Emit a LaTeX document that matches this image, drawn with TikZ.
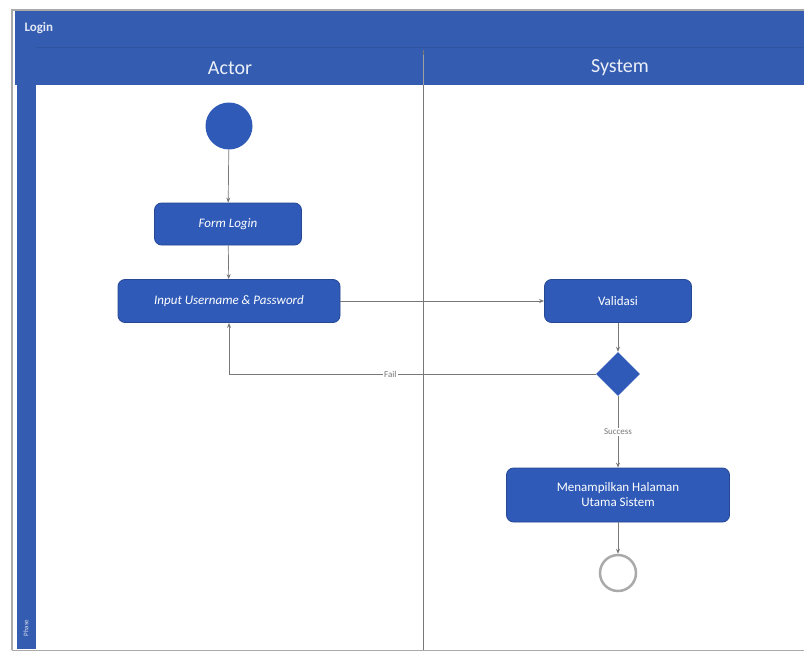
\documentclass[tikz,border=0pt]{standalone}
\usepackage{fontspec}
\setmainfont{Carlito}
\usetikzlibrary{shapes.geometric,arrows.meta}
\definecolor{laneblue}{RGB}{52,92,176}
\definecolor{boxblue}{RGB}{47,90,184}
\definecolor{flowgray}{RGB}{120,120,120}
\definecolor{framegray}{RGB}{170,170,170}
\tikzset{
  actbox/.style={draw=boxblue!80!black, line width=0.8pt, fill=boxblue, rounded corners=7pt,
    text=white, font=\fontsize{13}{15}\selectfont\itshape, align=center, inner sep=2pt},
  flow/.style={draw=flowgray, line width=0.7pt, -{Stealth[length=5pt,width=4pt]}},
  guard/.style={fill=white, text=flowgray, font=\fontsize{9}{10}\selectfont, inner sep=1pt},
  hdr/.style={text=white!90!laneblue, font=\fontsize{20}{22}\selectfont},
}
\begin{document}
\begin{tikzpicture}[x=1pt,y=-1pt]
\useasboundingbox (0,0) rectangle (804,653);
% pool frame
\fill[white] (0,0) rectangle (804,653);
\draw[framegray, line width=1.5pt] (12,650) -- (12,10) -- (804,10);
\draw[framegray, line width=1pt] (12,650) -- (804,650);
% title bar, lane header row and left phase strip
\fill[laneblue] (15,11) rectangle (804,85);
\fill[laneblue] (17,11) rectangle (36,649);
\draw[laneblue!90!black, line width=0.6pt] (36,47) -- (804,47);
\node[anchor=west, text=white!85!laneblue, font=\fontsize{13}{15}\selectfont\bfseries] (title) at (21,28) {Login};
\node[hdr] (actor) at (230,68) {Actor};
\node[hdr] (system) at (620,68) {System};
\node[rotate=90, text=white!80!laneblue, font=\fontsize{7}{8}\selectfont] (phase) at (26,628) {Phase};
% lane divider
\draw[flowgray, line width=1pt] (423,50) -- (423,650);
\fill[white] (37,86) rectangle (422,649);
\fill[white] (424,86) rectangle (803,649);
\draw[flowgray!70, line width=0.6pt] (423,55) -- (423,85);
% nodes
\node[circle, fill=boxblue, minimum size=47pt, inner sep=0pt] (start) at (229,126) {};
\node[actbox, minimum width=147pt, minimum height=42pt] (form) at (228,224) {Form Login};
\node[actbox, minimum width=222pt, minimum height=43pt] (input) at (229,301) {Input Username \& Password};
\node[actbox, minimum width=147pt, minimum height=43pt, font=\fontsize{13}{15}\selectfont] (valid) at (618,301) {Validasi};
\node[diamond, fill=boxblue, minimum width=44pt, minimum height=44pt, inner sep=0pt] (dec) at (618,374) {};
\node[actbox, minimum width=223pt, minimum height=54pt, font=\fontsize{13}{15}\selectfont] (show) at (618,495) {Menampilkan Halaman\\Utama Sistem};
\node[circle, draw=framegray, line width=2.5pt, fill=white, minimum size=36pt, inner sep=0pt] (end) at (618,573) {};
% flows
\draw[flow] (start) -- (form);
\draw[flow] (form) -- (input);
\draw[flow] (input) -- (valid);
\draw[flow] (valid) -- (dec);
\draw[flow] (dec.west) -| node[guard, pos=0.28] {Fail} (input.south);
\draw[flow] (dec) -- node[guard, pos=0.5] {Success} (show);
\draw[flow] (show) -- (end);
\end{tikzpicture}
\end{document}
